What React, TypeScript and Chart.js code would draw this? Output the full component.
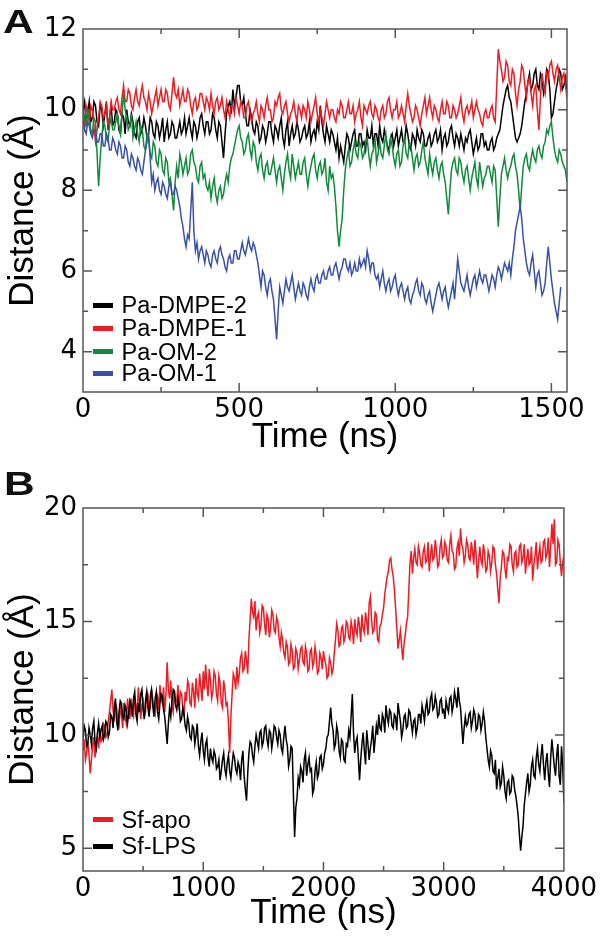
import React, { useEffect, useRef } from 'react';
import { Chart, registerables } from 'chart.js';

Chart.register(...registerables);

// ---------- Panel A data (time step 5 ns) ----------
const STEP_A = 5;
const paDmpe2 = [
  10.0, 10.2, 9.7, 9.9, 10.2, 9.7, 9.8, 10.2, 10.1, 9.7, 9.6, 10.1, 10.0, 9.6, 9.9, 10.2, 9.5, 9.8, 10.1, 9.6,
  9.7, 10.0, 9.9, 9.5, 9.4, 9.9, 9.8, 9.4, 10.0, 9.7, 9.6, 9.9, 9.7, 9.4, 9.3, 9.7, 9.8, 9.4, 9.5, 9.8,
  9.6, 9.3, 9.4, 9.8, 9.7, 9.4, 9.3, 9.7, 9.6, 9.3, 9.5, 9.8, 9.2, 9.5, 9.7, 9.3, 9.4, 9.7, 9.6, 9.3,
  9.3, 9.5, 9.7, 9.4, 9.5, 9.8, 9.4, 9.6, 9.8, 9.5, 9.3, 9.7, 9.6, 9.3, 9.5, 9.8, 9.9, 9.6, 9.4, 9.7,
  9.7, 9.4, 9.5, 9.9, 9.8, 9.5, 9.3, 9.7, 9.6, 9.2, 8.8, 9.4, 9.9, 10.1, 10.2, 9.9, 10.5, 10.1, 10.3, 10.6,
  10.6, 10.2, 10.1, 10.3, 9.9, 9.6, 9.6, 10.0, 9.8, 9.5, 9.4, 9.7, 9.6, 9.2, 9.3, 9.6, 9.5, 9.2, 9.4, 9.7,
  9.7, 9.4, 9.2, 9.6, 9.5, 9.3, 9.6, 9.8, 9.3, 9.1, 9.5, 9.7, 9.1, 9.4, 9.6, 9.3, 9.4, 9.7, 9.5, 9.2,
  9.3, 9.5, 9.6, 9.3, 9.4, 9.7, 9.2, 9.4, 9.5, 9.3, 9.7, 9.5, 10.1, 9.7, 9.4, 9.2, 9.6, 9.4, 9.2, 9.5,
  9.4, 9.2, 9.0, 9.3, 8.8, 9.1, 8.9, 8.7, 9.1, 9.4, 9.3, 9.0, 9.2, 9.4, 9.5, 9.1, 9.1, 9.4, 9.4, 9.1,
  9.2, 9.0, 9.5, 9.3, 9.3, 9.6, 9.1, 9.4, 9.4, 9.1, 9.6, 9.3, 9.2, 9.5, 9.3, 9.1, 9.0, 9.3, 9.4, 9.1,
  9.3, 9.5, 9.1, 9.3, 9.5, 9.2, 9.2, 9.6, 9.4, 9.1, 9.0, 9.4, 9.3, 9.1, 9.5, 9.3, 9.2, 9.5, 9.4, 9.1,
  9.1, 9.3, 9.4, 9.1, 9.2, 9.4, 9.5, 9.2, 9.3, 9.5, 9.0, 9.3, 9.4, 9.1, 9.2, 9.5, 9.6, 9.3, 9.1, 9.4,
  9.3, 9.1, 9.4, 9.2, 9.0, 9.3, 9.2, 9.4, 9.5, 9.2, 8.9, 9.1, 9.3, 9.0, 9.1, 9.4, 9.4, 9.1, 9.2, 9.0,
  9.0, 9.2, 9.3, 9.0, 9.1, 9.3, 9.4, 9.5, 9.8, 10.1, 10.3, 10.5, 10.6, 10.3, 10.2, 9.9, 9.6, 9.3, 9.2, 9.3,
  9.4, 9.6, 9.9, 10.2, 10.4, 10.7, 10.9, 10.5, 10.6, 10.9, 11.0, 10.6, 10.5, 10.9, 10.8, 10.4, 10.6, 11.0, 10.9, 10.5,
  9.8, 9.9, 10.2, 10.5, 10.7, 11.0, 10.9, 10.5, 10.6, 10.8, 10.4,
];
const paDmpe1 = [
  9.9, 9.6, 10.1, 9.9, 9.7, 10.1, 10.0, 9.6, 9.2, 9.5, 9.8, 10.2, 10.1, 9.8, 9.9, 10.1, 9.6, 9.8, 10.2, 10.0,
  10.0, 10.2, 10.3, 10.0, 9.9, 10.3, 10.6, 10.2, 10.2, 10.5, 10.4, 10.1, 10.0, 10.3, 10.5, 10.2, 10.1, 10.4, 10.6, 10.3,
  10.2, 10.0, 10.4, 10.2, 9.9, 10.1, 10.3, 10.5, 10.1, 10.3, 10.5, 10.2, 10.2, 10.5, 10.4, 10.1, 10.0, 10.4, 10.8, 10.4,
  10.3, 10.5, 10.1, 10.3, 10.5, 10.2, 10.2, 10.5, 10.4, 10.1, 9.9, 10.2, 10.3, 10.0, 10.1, 10.4, 10.4, 10.2, 10.0, 10.3,
  10.2, 10.0, 10.4, 10.1, 9.9, 10.2, 10.3, 10.0, 10.1, 10.3, 10.0, 9.8, 10.2, 10.0, 9.8, 10.1, 10.1, 9.9, 10.3, 10.1,
  9.9, 10.2, 10.1, 9.8, 9.8, 10.1, 10.2, 9.9, 9.7, 9.9, 10.0, 10.2, 9.9, 9.7, 10.1, 10.0, 9.8, 10.1, 10.3, 10.0,
  10.0, 9.7, 9.8, 10.2, 10.1, 10.3, 10.4, 10.0, 9.9, 10.1, 10.2, 9.9, 9.7, 9.9, 10.0, 10.2, 9.9, 9.7, 10.1, 10.0,
  9.8, 10.1, 10.0, 9.8, 10.2, 10.0, 9.7, 9.9, 10.1, 10.3, 9.9, 9.7, 10.0, 9.8, 9.6, 9.9, 10.2, 10.0, 9.8, 10.0,
  10.0, 9.8, 9.7, 10.0, 9.9, 10.2, 10.1, 9.8, 9.8, 10.0, 10.2, 9.9, 9.9, 10.1, 9.7, 9.9, 10.0, 10.2, 9.8, 9.6,
  10.1, 10.0, 9.9, 10.1, 10.2, 9.9, 9.8, 10.1, 10.0, 9.8, 9.7, 10.0, 10.1, 9.8, 9.9, 10.2, 10.3, 10.0, 9.8, 10.0,
  10.0, 10.2, 9.8, 9.9, 10.1, 9.9, 9.7, 10.1, 10.4, 10.1, 9.9, 9.7, 9.8, 10.1, 10.0, 9.8, 9.6, 9.9, 10.1, 10.3,
  9.9, 10.1, 10.3, 10.0, 9.8, 10.1, 10.0, 9.8, 9.7, 10.0, 10.2, 9.9, 9.9, 10.2, 10.1, 9.8, 9.8, 10.1, 10.0, 9.8,
  9.9, 10.1, 10.3, 9.9, 9.7, 10.0, 10.1, 9.9, 10.0, 10.2, 9.8, 10.0, 10.2, 10.0, 9.9, 9.7, 9.6, 9.9, 10.0, 9.8,
  9.8, 10.0, 10.1, 9.8, 9.7, 10.6, 11.5, 11.2, 11.0, 10.7, 10.8, 11.2, 11.1, 10.7, 10.6, 11.0, 10.9, 10.4, 10.1, 10.5,
  10.7, 11.1, 11.0, 10.6, 10.3, 10.7, 10.8, 10.4, 10.1, 10.5, 10.6, 10.0, 9.5, 10.3, 10.9, 10.6, 10.4, 10.9, 10.8, 11.1,
  11.2, 10.9, 10.7, 11.0, 11.1, 10.8, 10.5, 10.8, 10.9, 10.6, 10.3,
];
const paOm2 = [
  10.0, 9.8, 9.6, 10.0, 9.8, 9.5, 9.4, 9.8, 9.7, 8.9, 8.1, 8.8, 9.3, 9.7, 9.6, 9.3, 9.2, 9.6, 9.8, 9.5,
  9.5, 9.7, 9.9, 9.6, 9.4, 9.9, 10.4, 10.0, 9.8, 9.5, 9.6, 9.9, 9.3, 9.5, 9.7, 9.4, 9.2, 9.6, 9.5, 9.1,
  9.0, 9.4, 9.3, 8.9, 8.8, 9.2, 9.1, 8.7, 8.6, 9.0, 8.9, 8.5, 8.4, 8.8, 8.7, 8.2, 8.3, 7.9, 7.5, 8.2,
  8.6, 8.3, 8.9, 8.7, 8.4, 8.6, 8.8, 8.4, 8.5, 8.9, 9.0, 8.7, 8.6, 8.3, 8.2, 8.6, 8.7, 8.3, 8.4, 8.1,
  8.0, 8.2, 7.8, 8.1, 8.3, 7.9, 7.7, 8.0, 8.1, 7.8, 7.9, 8.2, 8.4, 8.2, 8.6, 8.8, 8.9, 9.1, 9.3, 9.5,
  9.6, 9.3, 9.2, 8.9, 9.0, 9.3, 9.4, 9.0, 8.8, 9.2, 9.1, 8.7, 8.5, 8.8, 8.9, 8.5, 8.3, 8.6, 8.7, 8.4,
  8.4, 8.6, 8.8, 8.5, 8.2, 8.5, 8.6, 8.3, 8.0, 8.4, 8.7, 8.9, 8.5, 8.3, 8.9, 8.6, 8.3, 8.5, 8.7, 8.4,
  8.4, 8.7, 8.8, 8.4, 8.1, 8.4, 8.6, 8.8, 8.9, 8.5, 8.3, 8.6, 8.7, 8.4, 8.5, 8.8, 8.2, 8.0, 8.6, 8.3,
  8.4, 8.1, 7.6, 7.0, 6.6, 7.0, 7.3, 8.0, 8.5, 8.8, 9.0, 8.6, 8.7, 9.0, 9.2, 8.9, 8.8, 9.2, 9.1, 8.8,
  8.9, 9.2, 9.3, 8.9, 8.6, 8.9, 9.0, 9.3, 8.7, 8.9, 9.2, 8.9, 8.8, 9.1, 9.4, 9.0, 8.9, 9.3, 9.1, 8.8,
  8.6, 8.9, 9.0, 8.6, 8.7, 9.1, 9.3, 8.9, 8.8, 9.2, 9.1, 8.8, 8.5, 8.8, 8.9, 8.6, 8.7, 9.0, 9.2, 8.8,
  8.6, 8.4, 8.9, 8.6, 8.4, 8.7, 8.8, 8.5, 8.3, 8.6, 8.7, 8.4, 8.2, 7.8, 7.4, 8.0, 8.5, 8.7, 8.8, 8.5,
  8.4, 8.8, 8.7, 8.4, 8.2, 8.5, 8.6, 8.3, 8.0, 8.3, 8.5, 8.7, 8.3, 8.1, 8.7, 8.4, 8.1, 8.3, 8.4, 8.6,
  8.6, 8.4, 8.2, 8.6, 8.5, 7.8, 7.1, 7.8, 8.4, 8.6, 8.8, 8.5, 8.3, 8.5, 8.6, 8.8, 8.9, 8.6, 8.4, 8.0,
  7.5, 8.1, 8.6, 8.8, 8.9, 8.6, 8.5, 8.8, 9.0, 8.8, 8.7, 9.0, 9.1, 8.9, 8.8, 9.1, 9.2, 9.5, 9.4, 9.6,
  9.7, 9.3, 9.0, 8.8, 8.7, 9.0, 8.9, 8.7, 8.6, 8.5, 8.2,
];
const paOm1 = [
  9.7, 9.5, 9.4, 9.7, 9.6, 9.4, 9.3, 9.5, 9.5, 9.2, 9.2, 9.4, 9.4, 9.1, 9.1, 9.4, 9.3, 9.0, 9.0, 9.3,
  9.2, 9.0, 8.9, 9.2, 9.1, 8.8, 8.8, 9.1, 9.0, 8.7, 8.6, 8.9, 8.8, 8.6, 8.5, 8.8, 8.7, 8.5, 8.4, 8.7,
  9.0, 9.2, 9.4, 8.8, 8.2, 8.4, 8.0, 8.2, 8.3, 8.0, 7.9, 8.2, 8.1, 7.9, 7.8, 8.1, 8.2, 7.9, 7.9, 8.1,
  8.0, 7.8, 7.6, 7.3, 7.1, 6.8, 6.6, 6.9, 6.8, 7.5, 8.2, 7.0, 6.5, 6.7, 6.3, 6.5, 6.6, 6.4, 6.2, 6.5,
  6.4, 6.2, 6.1, 6.4, 6.5, 6.3, 6.2, 6.5, 6.6, 6.4, 6.3, 6.1, 6.0, 6.3, 6.4, 6.2, 6.2, 6.5, 6.5, 6.3,
  6.3, 6.5, 6.7, 6.5, 6.4, 6.6, 6.8, 6.6, 6.5, 6.7, 6.6, 6.4, 6.2, 5.9, 5.6, 6.0, 5.9, 5.6, 5.4, 5.7,
  5.8, 5.5, 5.3, 4.8, 4.3, 5.0, 5.6, 5.4, 5.2, 5.5, 5.8, 5.6, 5.5, 5.7, 5.9, 5.6, 5.3, 5.5, 5.7, 5.5,
  5.4, 5.7, 5.6, 5.4, 5.3, 5.6, 5.8, 5.6, 5.5, 5.8, 5.9, 5.7, 5.7, 5.9, 6.0, 5.8, 5.8, 6.0, 6.1, 5.9,
  5.9, 6.1, 6.2, 6.0, 5.8, 6.0, 6.1, 6.3, 6.3, 6.1, 6.0, 6.2, 5.9, 6.0, 6.2, 6.0, 6.0, 6.3, 6.1, 6.2,
  6.3, 6.1, 6.5, 6.3, 6.0, 6.2, 6.2, 5.9, 5.8, 5.9, 5.6, 5.8, 6.0, 5.7, 5.5, 5.7, 5.8, 5.5, 5.6, 5.8,
  5.9, 5.6, 5.4, 5.6, 5.7, 5.5, 5.3, 5.5, 5.6, 5.3, 5.2, 5.4, 5.5, 5.7, 5.8, 5.5, 5.4, 5.7, 5.6, 5.3,
  5.2, 5.4, 5.5, 5.2, 5.0, 5.2, 5.4, 5.6, 5.7, 5.5, 5.3, 5.5, 5.6, 5.3, 5.1, 5.3, 5.5, 5.7, 5.3, 5.8,
  6.3, 6.0, 5.7, 5.6, 5.5, 5.7, 5.9, 5.6, 5.4, 5.6, 5.8, 5.9, 5.6, 5.8, 6.0, 5.8, 5.7, 5.9, 5.9, 5.7,
  5.5, 5.7, 5.9, 5.8, 5.6, 5.9, 6.1, 6.0, 5.8, 6.0, 6.2, 6.1, 6.0, 6.2, 5.9, 6.3, 6.6, 7.0, 7.2, 7.4,
  7.6, 7.3, 6.8, 6.5, 6.2, 6.0, 5.9, 6.2, 6.4, 6.0, 5.6, 5.9, 6.0, 5.7, 5.4, 5.5, 5.7, 6.2, 6.6, 6.2,
  5.8, 5.5, 5.2, 5.0, 4.8, 5.2, 5.6,
];

// ---------- Panel B data (time step 10 ns) ----------
const STEP_B = 10;
const sfApo = [
  9.3, 9.8, 8.9, 9.2, 9.7, 9.1, 8.3, 8.9, 9.5, 9.9, 9.0, 9.6, 9.9, 9.4, 10.3, 9.7, 9.8, 10.5, 10.4, 9.9,
  10.0, 10.6, 11.0, 11.5, 12.0, 11.1, 10.6, 11.4, 11.2, 10.6, 10.4, 11.2, 10.9, 10.3, 11.4, 10.8, 10.5, 11.6, 11.1, 10.7,
  11.6, 11.0, 10.8, 11.7, 11.3, 10.9, 12.1, 11.4, 10.7, 11.3, 11.5, 10.8, 11.0, 11.9, 11.8, 11.0, 11.2, 12.0, 11.6, 11.1,
  10.9, 11.5, 11.7, 11.1, 12.2, 11.6, 11.4, 12.1, 11.0, 11.8, 13.2, 12.0, 11.6, 12.4, 11.3, 11.0, 12.0, 11.4, 11.5, 12.2,
  11.1, 11.9, 11.8, 11.2, 10.8, 11.9, 11.5, 12.4, 12.2, 11.4, 11.3, 12.3, 11.9, 11.2, 12.5, 11.8, 11.6, 12.7, 12.1, 11.5,
  12.8, 12.0, 13.1, 12.2, 11.7, 12.9, 12.4, 11.6, 11.9, 12.8, 12.6, 11.8, 11.5, 12.6, 12.3, 11.4, 11.2, 12.4, 12.0, 11.3,
  11.4, 10.5, 9.2, 10.8, 11.8, 12.7, 12.5, 12.0, 13.0, 12.3, 12.7, 13.4, 13.6, 12.8, 12.9, 13.7, 13.3, 12.7, 14.2, 15.1,
  16.0, 15.4, 15.2, 15.9, 14.6, 15.2, 15.4, 14.5, 14.8, 15.7, 15.6, 14.9, 14.4, 15.3, 15.1, 14.3, 14.7, 15.5, 15.3, 14.6,
  14.5, 15.2, 15.0, 14.3, 13.9, 14.5, 14.2, 13.6, 13.4, 14.1, 13.9, 13.1, 13.2, 14.0, 13.7, 12.9, 13.0, 13.8, 13.6, 12.9,
  13.3, 13.8, 13.9, 13.2, 13.1, 13.9, 13.6, 12.8, 12.9, 13.7, 13.8, 13.0, 13.2, 13.9, 13.5, 12.7, 12.8, 13.6, 13.4, 12.9,
  13.7, 13.3, 13.1, 12.5, 12.6, 13.4, 13.2, 12.7, 12.9, 13.6, 14.2, 14.9, 14.6, 13.9, 14.0, 14.7, 14.8, 14.1, 14.3, 15.0,
  14.9, 14.3, 14.2, 15.0, 14.7, 14.0, 15.1, 14.6, 14.4, 15.2, 14.8, 14.1, 15.3, 14.7, 14.5, 15.4, 15.0, 14.4, 15.8, 16.1,
  15.1, 14.5, 14.6, 15.4, 15.3, 14.2, 14.1, 14.8, 14.9, 15.3, 15.6, 16.2, 16.6, 17.0, 17.2, 17.7, 17.8, 17.3, 17.0, 16.4,
  15.6, 14.7, 13.8, 14.2, 14.6, 13.9, 13.3, 14.0, 14.4, 14.9, 15.2, 16.4, 17.6, 18.1, 17.1, 17.8, 18.2, 17.6, 17.5, 18.3,
  18.0, 17.5, 17.4, 18.1, 18.3, 17.6, 17.7, 18.5, 17.2, 17.9, 18.4, 17.7, 17.8, 18.6, 18.1, 17.4, 17.5, 18.3, 18.6, 17.8,
  17.9, 18.5, 18.3, 17.7, 17.6, 18.4, 18.8, 18.1, 18.0, 17.3, 17.4, 18.2, 18.5, 17.9, 19.1, 18.4, 18.2, 17.6, 17.9, 18.6,
  18.4, 17.8, 17.7, 18.5, 18.1, 17.5, 18.6, 17.9, 16.9, 17.6, 18.3, 17.7, 17.5, 18.4, 18.0, 17.2, 17.3, 18.1, 17.9, 17.2,
  17.6, 18.3, 18.2, 17.5, 17.1, 16.4, 15.8, 16.9, 17.4, 18.1, 18.0, 17.3, 16.9, 17.8, 17.7, 18.4, 18.3, 17.5, 17.2, 18.0,
  18.1, 17.4, 17.5, 18.3, 18.4, 17.6, 17.8, 18.4, 17.1, 17.7, 18.2, 17.5, 17.6, 18.3, 16.8, 17.5, 17.9, 18.5, 17.3, 17.9,
  18.3, 17.6, 17.7, 18.5, 18.6, 17.8, 18.0, 18.7, 17.4, 18.3, 19.3, 18.4, 19.5, 17.5, 17.6, 18.6, 18.4, 17.6, 17.0, 17.6,
  17.9,
];
const sfLps = [
  9.8, 10.4, 10.2, 9.5, 9.6, 10.3, 10.0, 9.6, 10.3, 10.6, 9.7, 9.4, 10.1, 10.5, 9.9, 10.2, 10.4, 9.8, 10.0, 10.6,
  10.5, 9.9, 10.1, 10.9, 10.8, 10.3, 11.2, 11.6, 10.6, 10.2, 11.0, 11.5, 11.4, 10.8, 10.7, 11.3, 11.1, 10.5, 10.9, 11.5,
  11.3, 10.8, 11.6, 11.9, 10.9, 10.6, 11.4, 11.0, 11.8, 12.0, 11.1, 10.7, 11.5, 11.9, 11.2, 10.8, 11.7, 12.0, 11.3, 10.8,
  11.6, 11.9, 11.0, 10.7, 11.4, 11.8, 11.7, 11.1, 10.8, 10.2, 9.6, 10.5, 11.2, 10.8, 11.5, 12.0, 11.9, 11.3, 11.1, 11.6,
  11.3, 10.6, 10.7, 11.2, 10.9, 10.4, 10.2, 10.8, 10.5, 9.9, 9.8, 10.4, 10.3, 9.6, 10.0, 10.5, 9.5, 9.1, 9.7, 10.1,
  9.3, 8.9, 9.6, 9.8, 9.0, 8.6, 9.4, 9.0, 8.8, 9.3, 9.1, 8.5, 8.6, 8.9, 8.0, 8.4, 8.9, 9.2, 8.5, 8.2,
  8.8, 9.1, 8.4, 8.1, 8.7, 9.2, 9.0, 8.5, 8.3, 8.8, 8.6, 8.0, 8.9, 9.3, 8.2, 7.6, 7.1, 8.3, 9.2, 9.7,
  9.6, 9.1, 8.8, 9.5, 10.0, 9.7, 9.4, 10.1, 10.2, 9.5, 9.7, 10.3, 10.4, 9.8, 9.5, 10.2, 10.1, 9.4, 9.8, 10.4,
  10.3, 9.9, 9.6, 10.2, 10.0, 9.4, 9.2, 9.9, 10.4, 9.8, 9.5, 8.6, 8.9, 9.5, 9.4, 7.4, 5.5, 6.8, 7.2, 8.1,
  7.8, 8.6, 8.4, 7.9, 8.9, 9.2, 8.2, 8.7, 9.0, 8.4, 8.5, 7.4, 7.6, 8.4, 8.8, 8.1, 8.3, 9.0, 9.1, 8.5,
  8.7, 9.2, 9.4, 9.9, 10.0, 10.6, 11.2, 10.5, 10.2, 9.4, 9.6, 10.4, 10.1, 9.3, 9.0, 9.8, 9.7, 8.9, 8.8, 9.6,
  9.5, 10.2, 9.9, 10.8, 11.8, 10.1, 9.2, 9.7, 9.9, 9.0, 8.0, 8.9, 9.6, 10.1, 9.3, 8.7, 10.2, 9.6, 8.9, 9.4,
  9.8, 10.4, 9.2, 9.8, 10.4, 10.0, 10.9, 10.3, 10.2, 10.9, 10.7, 10.1, 11.3, 10.8, 10.5, 11.1, 11.0, 10.4, 10.3, 10.9,
  10.8, 10.2, 11.4, 11.0, 10.6, 9.9, 10.2, 10.8, 10.9, 10.3, 10.4, 11.1, 11.0, 10.5, 10.1, 10.6, 10.7, 10.0, 10.3, 10.9,
  10.9, 10.5, 11.3, 11.0, 10.6, 11.2, 11.5, 10.9, 11.0, 11.6, 11.8, 11.1, 11.2, 11.7, 11.4, 10.8, 10.9, 11.5, 11.6, 11.0,
  11.1, 10.7, 11.5, 11.2, 11.0, 11.6, 11.7, 11.0, 11.3, 11.9, 11.6, 11.2, 12.1, 11.5, 11.2, 10.4, 9.6, 10.3, 10.8, 10.4,
  10.5, 10.9, 11.0, 10.3, 10.6, 11.1, 10.9, 10.2, 10.3, 10.9, 10.8, 10.2, 10.5, 11.0, 10.6, 9.9, 9.4, 8.9, 8.6, 9.3,
  9.1, 8.4, 8.3, 8.9, 7.6, 8.1, 8.5, 7.7, 7.9, 8.6, 8.2, 7.5, 7.2, 7.9, 8.0, 7.4, 7.5, 8.2, 8.1, 7.6,
  7.3, 6.9, 6.4, 5.6, 4.9, 5.5, 6.0, 6.9, 7.4, 7.9, 8.3, 7.5, 7.8, 8.6, 8.9, 8.2, 8.1, 9.0, 9.4, 8.7,
  8.4, 9.1, 9.6, 8.7, 8.0, 8.8, 9.2, 8.3, 7.7, 9.0, 9.8, 9.2, 8.6, 8.2, 9.1, 9.6, 8.2, 7.8, 9.5, 8.6,
  7.0,
];

// ---------- Axis ticks ----------
const xTicksA = [0, 250, 500, 750, 1000, 1250, 1500];
const yTicksA = [3, 4, 5, 6, 7, 8, 9, 10, 11, 12];
const xTicksB = [0, 500, 1000, 1500, 2000, 2500, 3000, 3500, 4000];
const yTicksB = [5, 7.5, 10, 12.5, 15, 17.5, 20];

const BLACK = '#000000';
const RED = '#ec1c24';
const GREEN = '#128a3c';
const BLUE = '#3852a6';

const legendA = [
  { label: 'Pa-DMPE-2', color: BLACK, data: paDmpe2 },
  { label: 'Pa-DMPE-1', color: RED, data: paDmpe1 },
  { label: 'Pa-OM-2', color: GREEN, data: paOm2 },
  { label: 'Pa-OM-1', color: BLUE, data: paOm1 },
];
const legendB = [
  { label: 'Sf-apo', color: RED, data: sfApo },
  { label: 'Sf-LPS', color: BLACK, data: sfLps },
];

const toPoints = (vals: number[], step: number) => vals.map((v, i) => ({ x: i * step, y: v }));

const frameTicks = {
  id: 'frameTicks',
  afterDatasetsDraw(chart: any) {
    const { ctx, chartArea: a, scales } = chart;
    const xs = scales.x;
    const ys = scales.y;
    ctx.save();
    ctx.strokeStyle = '#555';
    ctx.lineWidth = 1.5;
    ctx.beginPath();
    for (const t of xs.ticks) {
      const p = xs.getPixelForValue(t.value);
      if (p <= a.left + 1 || p >= a.right - 1) continue;
      const len = t.label ? 9 : 5;
      ctx.moveTo(p, a.bottom);
      ctx.lineTo(p, a.bottom - len);
      ctx.moveTo(p, a.top);
      ctx.lineTo(p, a.top + len);
    }
    for (const t of ys.ticks) {
      const p = ys.getPixelForValue(t.value);
      if (p <= a.top + 1 || p >= a.bottom - 1) continue;
      const len = t.label ? 9 : 5;
      ctx.moveTo(a.left, p);
      ctx.lineTo(a.left + len, p);
      ctx.moveTo(a.right, p);
      ctx.lineTo(a.right - len, p);
    }
    ctx.stroke();
    ctx.strokeRect(a.left, a.top, a.right - a.left, a.bottom - a.top);
    ctx.restore();
  },
};

const tickFont = { family: "'DejaVu Sans', sans-serif", size: 26 };
const titleFont = { family: "'Liberation Sans', Arial, sans-serif", size: 35 };

type PanelCfg = {
  top: number;
  height: number;
  padTop: number;
  xHeight: number;
  xMax: number;
  xTicks: number[];
  xMajor: number;
  yMin: number;
  yMax: number;
  yTicks: number[];
  yMajor: number;
};

const isMajor = (v: number, m: number) => Math.abs(v / m - Math.round(v / m)) < 1e-6;

function Panel({ cfg, datasets }: { cfg: PanelCfg; datasets: any[] }) {
  const ref = useRef<HTMLCanvasElement | null>(null);
  useEffect(() => {
    if (!ref.current) return;
    const chart = new Chart(ref.current, {
      type: 'line',
      data: { datasets },
      options: {
        animation: false,
        responsive: false,
        maintainAspectRatio: false,
        layout: { padding: { top: cfg.padTop, right: 33, left: 0, bottom: 0 } },
        plugins: { legend: { display: false }, tooltip: { enabled: false } },
        elements: { point: { radius: 0 }, line: { borderWidth: 1.5, tension: 0 } },
        scales: {
          x: {
            type: 'linear',
            min: 0,
            max: cfg.xMax,
            afterBuildTicks: (s: any) => {
              s.ticks = cfg.xTicks.map((v) => ({ value: v }));
            },
            afterFit: (s: any) => {
              s.height = cfg.xHeight;
            },
            grid: { display: false, drawTicks: false },
            border: { display: false },
            ticks: {
              autoSkip: false,
              maxRotation: 0,
              minRotation: 0,
              padding: 3,
              color: '#000',
              font: tickFont,
              callback: (v: any) => (isMajor(Number(v), cfg.xMajor) ? String(v) : ''),
            },
            title: {
              display: true,
              text: 'Time (ns)',
              color: '#000',
              font: titleFont,
              padding: { top: 0, bottom: 2 },
            },
          },
          y: {
            type: 'linear',
            min: cfg.yMin,
            max: cfg.yMax,
            afterBuildTicks: (s: any) => {
              s.ticks = cfg.yTicks.map((v) => ({ value: v }));
            },
            afterFit: (s: any) => {
              s.width = 83;
            },
            grid: { display: false, drawTicks: false },
            border: { display: false },
            ticks: {
              autoSkip: false,
              padding: 6,
              color: '#000',
              font: tickFont,
              callback: (v: any) => (isMajor(Number(v), cfg.yMajor) ? String(v) : ''),
            },
            title: {
              display: true,
              text: 'Distance (Å)',
              color: '#000',
              font: titleFont,
              padding: { top: 2, bottom: 0 },
            },
          },
        },
      } as any,
      plugins: [frameTicks],
    });
    return () => chart.destroy();
  }, []);
  return (
    <canvas
      ref={ref}
      width={600}
      height={cfg.height}
      style={{ position: 'absolute', left: 0, top: cfg.top, width: 600, height: cfg.height, display: 'block' }}
    />
  );
}

const cfgA: PanelCfg = {
  top: 0, height: 460, padTop: 29, xHeight: 68,
  xMax: 1550, xTicks: xTicksA, xMajor: 500,
  yMin: 3, yMax: 12, yTicks: yTicksA, yMajor: 2,
};
const cfgB: PanelCfg = {
  top: 460, height: 476, padTop: 48, xHeight: 65,
  xMax: 4000, xTicks: xTicksB, xMajor: 1000,
  yMin: 4, yMax: 20, yTicks: yTicksB, yMajor: 5,
};

const mk = (item: any, step: number) => ({
  label: item.label,
  data: toPoints(item.data, step),
  borderColor: item.color,
  backgroundColor: item.color,
  borderWidth: 1.5,
  pointRadius: 0,
  fill: false,
});

// dataset 0 is drawn on top in Chart.js
const datasetsA = [legendA[3], legendA[2], legendA[1], legendA[0]].map((d) => mk(d, STEP_A));
const datasetsB = [legendB[1], legendB[0]].map((d) => mk(d, STEP_B));

function Legend({ items, centers }: { items: any[]; centers: number[] }) {
  return (
    <>
      {items.map((it, i) => (
        <React.Fragment key={it.label}>
          <div
            style={{
              position: 'absolute', left: 93, top: centers[i] - 2.5, width: 20, height: 5,
              background: it.color,
            }}
          />
          <div
            style={{
              position: 'absolute', left: 121.5, top: centers[i] - 14, height: 28, lineHeight: '28px',
              fontFamily: "'Liberation Sans', Arial, sans-serif", fontSize: 23.5, color: '#000',
              whiteSpace: 'nowrap',
            }}
          >
            {it.label}
          </div>
        </React.Fragment>
      ))}
    </>
  );
}

const panelLabelStyle: React.CSSProperties = {
  position: 'absolute', height: 34, lineHeight: '34px', fontSize: 34, fontWeight: 'bold',
  fontFamily: "'Liberation Sans', Arial, sans-serif", color: '#111',
  transform: 'scaleX(1.25)', transformOrigin: 'left top',
};

export default function App() {
  return (
    <div style={{ position: 'absolute', left: 0, top: 0, width: 600, height: 936, background: '#fff', overflow: 'hidden' }}>
      <Panel cfg={cfgA} datasets={datasetsA} />
      <Panel cfg={cfgB} datasets={datasetsB} />
      <Legend items={legendA} centers={[305, 328.3, 351.5, 373.3]} />
      <Legend items={legendB} centers={[819.5, 846]} />
      <div style={{ ...panelLabelStyle, left: 3, top: 3.8 }}>A</div>
      <div style={{ ...panelLabelStyle, left: 3.7, top: 465.5 }}>B</div>
    </div>
  );
}
